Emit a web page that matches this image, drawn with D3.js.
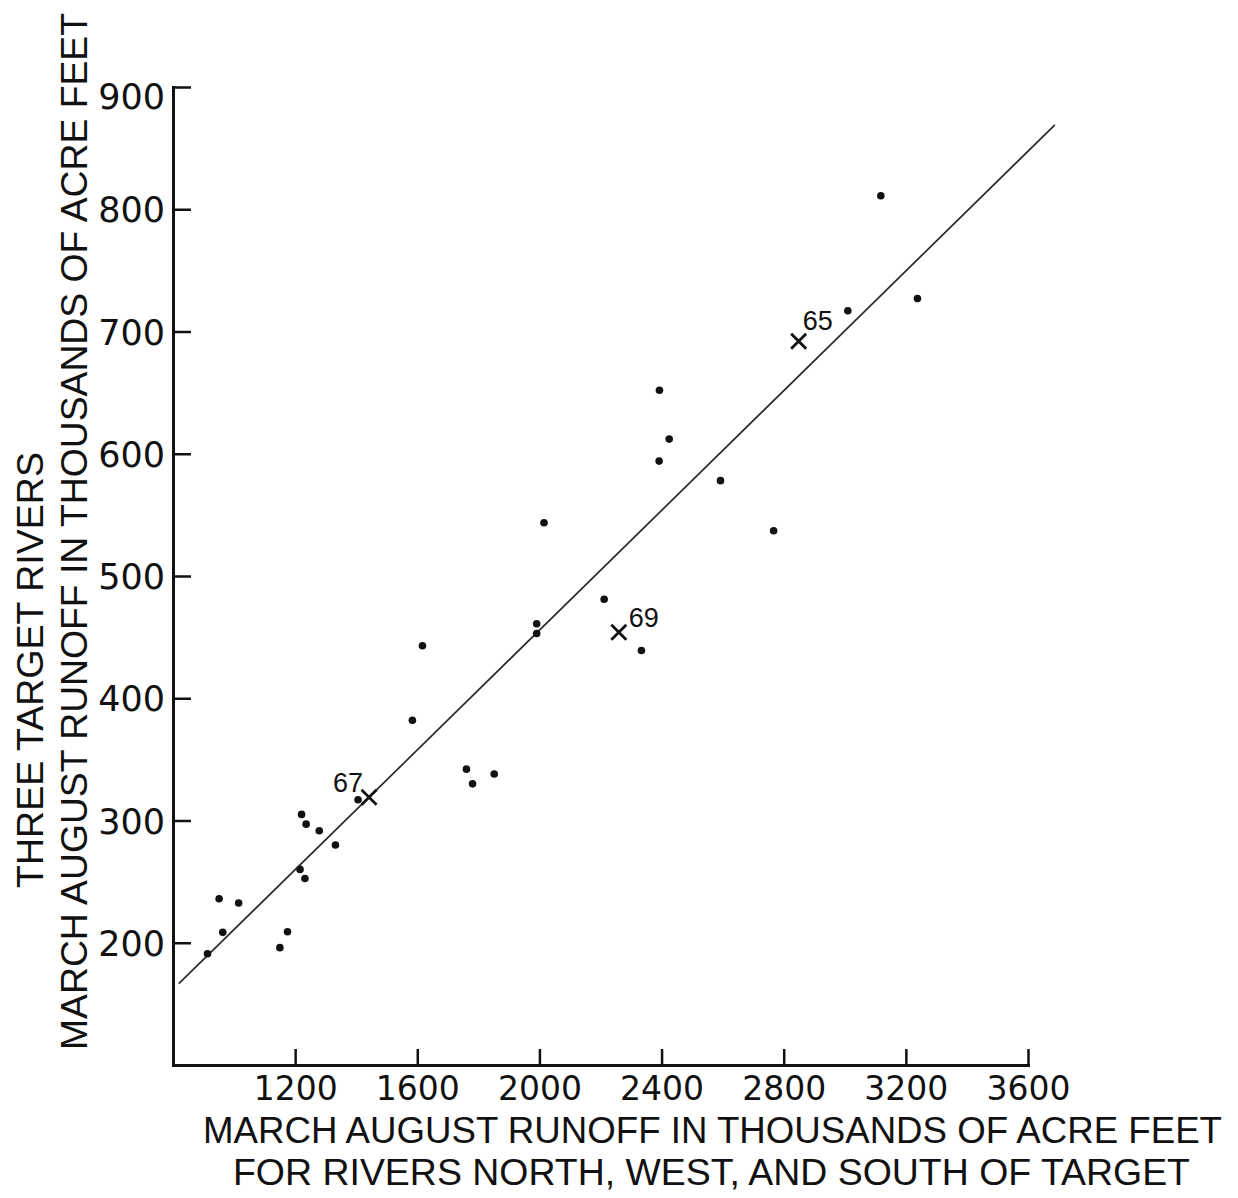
<!DOCTYPE html>
<html>
<head>
<meta charset="utf-8">
<script src="https://cdn.jsdelivr.net/npm/d3@7"></script>
<style>
  html, body { margin: 0; padding: 0; background: #fff; }
  svg { display: block; }
</style>
</head>
<body>
<svg id="chart" width="1238" height="1198"></svg>
<script>
// ---- data (thousands of acre feet) ----
const xTickValues = [1200, 1600, 2000, 2400, 2800, 3200, 3600];
const yTickValues = [200, 300, 400, 500, 600, 700, 800, 900];

// other years (dots)
const dotX = [913, 951, 963, 1015, 1150, 1175, 1221, 1236, 1279, 1332, 1216, 1232, 1406,
              1617, 1991, 1991, 2212, 2334, 1584, 1761, 1781, 1852, 2015,
              3118, 3238, 3010, 2393, 2425, 2392, 2593, 2767];
const dotY = [191, 236, 208.5, 232.5, 196, 209, 305, 297, 291.6, 280, 260, 252.6, 317,
              443, 461, 453, 481, 439, 382, 342, 330, 338, 543.5,
              811, 727, 717, 652, 612, 594, 578, 537];

// seeded years (crosses)
const crossLabels = ["65", "67", "69"];
const crossX = [2849, 1442, 2260];
const crossY = [692, 319, 454];

// regression line end points
const fitX = [819, 3688];
const fitY = [166.5, 869];

const xTitleLines = ["MARCH AUGUST RUNOFF IN THOUSANDS OF ACRE FEET",
                     "FOR RIVERS NORTH, WEST, AND SOUTH OF TARGET"];
const yTitleLines = ["THREE TARGET RIVERS",
                     "MARCH AUGUST RUNOFF IN THOUSANDS OF ACRE FEET"];

// ---- drawing ----
const svg = d3.select("#chart");
const font = "'Liberation Sans', Arial, sans-serif";
const numFont = "'DejaVu Sans', 'Liberation Sans', sans-serif";

const x = d3.scaleLinear().domain([800, 3600]).range([173, 1028]);
const y = d3.scaleLinear().domain([100, 900]).range([1065, 87]);

// regression line
svg.append("line")
  .attr("x1", x(fitX[0])).attr("y1", y(fitY[0]))
  .attr("x2", x(fitX[1])).attr("y2", y(fitY[1]))
  .attr("stroke", "#2a2a2a").attr("stroke-width", 1.7);

// axes
const yAxis = d3.axisLeft(y).tickValues(yTickValues).tickSizeInner(-18).tickSizeOuter(0).tickPadding(8)
  .tickFormat(d3.format("d"));
const gy = svg.append("g").attr("transform", `translate(${x(800)},0)`).call(yAxis);

const xAxis = d3.axisBottom(x).tickValues(xTickValues).tickSizeInner(-16).tickSizeOuter(0).tickPadding(12)
  .tickFormat(d3.format("d"));
const gx = svg.append("g").attr("transform", `translate(0,${y(100)})`).call(xAxis);

[gx, gy].forEach(g => {
  g.select(".domain").attr("stroke", "#111").attr("stroke-width", 3).attr("stroke-linecap", "square");
  g.selectAll(".tick line").attr("stroke", "#111").attr("stroke-width", 2.5);
  g.selectAll(".tick text").attr("fill", "#111").style("font-family", numFont);
});
gx.selectAll(".tick text").style("font-size", "33px");
gy.selectAll(".tick text").style("font-size", "35px")
  .attr("dy", d => d === 900 ? "0.6em" : "0.36em");

// dots
svg.append("g").selectAll("circle")
  .data(dotX.map((d, i) => [d, dotY[i]]))
  .join("circle")
  .attr("cx", d => x(d[0])).attr("cy", d => y(d[1]))
  .attr("r", 3.8).attr("fill", "#111");

// crosses with year labels
const labelPlace = {
  "65": { dx: 4, dy: -11, anchor: "start" },
  "67": { dx: -6, dy: -5, anchor: "end" },
  "69": { dx: 10, dy: -5, anchor: "start" }
};
const crosses = svg.append("g").selectAll("g")
  .data(crossLabels.map((l, i) => ({ l, cx: crossX[i], cy: crossY[i] })))
  .join("g")
  .attr("transform", d => `translate(${x(d.cx)},${y(d.cy)})`);
const s = 7.5;
crosses.append("path")
  .attr("d", `M${-s},${-s}L${s},${s}M${s},${-s}L${-s},${s}`)
  .attr("stroke", "#111").attr("stroke-width", 2.8).attr("fill", "none");
crosses.append("text")
  .attr("x", d => labelPlace[d.l].dx).attr("y", d => labelPlace[d.l].dy)
  .attr("text-anchor", d => labelPlace[d.l].anchor)
  .style("font-family", font).style("font-size", "27px").attr("fill", "#111")
  .text(d => d.l);

// x title
const xTitlePos = [{ x: 203, y: 1143, len: 1019 }, { x: 233, y: 1185, len: 957 }];
svg.append("g").selectAll("text").data(xTitleLines).join("text")
  .attr("x", (d, i) => xTitlePos[i].x).attr("y", (d, i) => xTitlePos[i].y)
  .attr("textLength", (d, i) => xTitlePos[i].len).attr("lengthAdjust", "spacingAndGlyphs")
  .style("font-family", font).style("font-size", "37px").attr("fill", "#111")
  .text(d => d);

// y title
const yTitlePos = [{ x: 43, y: 888, len: 436 }, { x: 87, y: 1050, len: 1037 }];
svg.append("g").selectAll("text").data(yTitleLines).join("text")
  .attr("transform", (d, i) => `translate(${yTitlePos[i].x},${yTitlePos[i].y}) rotate(-90)`)
  .attr("textLength", (d, i) => yTitlePos[i].len).attr("lengthAdjust", "spacingAndGlyphs")
  .style("font-family", font).style("font-size", "37px").attr("fill", "#111")
  .text(d => d);
</script>
</body>
</html>
